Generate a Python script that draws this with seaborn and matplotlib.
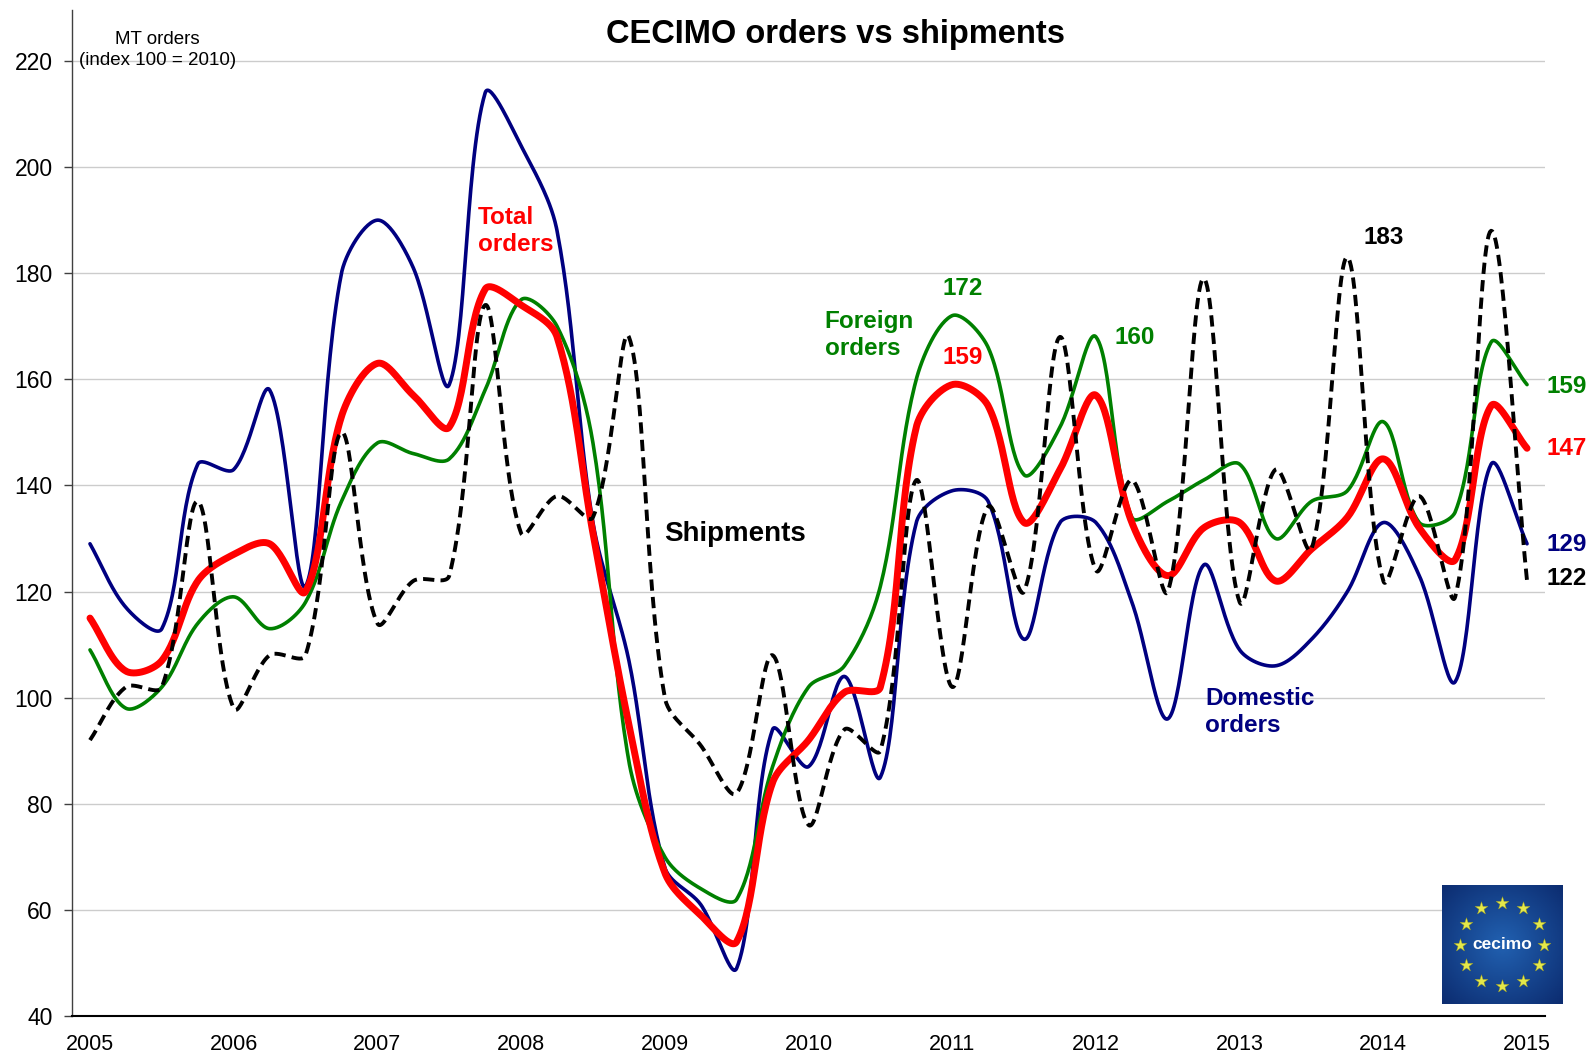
import numpy as np
import pandas as pd
import matplotlib
matplotlib.use("Agg")
import matplotlib.pyplot as plt
import seaborn as sns

# quarterly index values, 2005 Q1 .. 2015 Q1 (index 100 = 2010)
year_labels = [str(y) for y in range(2005, 2016)]
quarters = list(range(41))

domestic = [129, 117, 113, 144, 143, 158, 121, 180, 190, 181,
            159, 214, 204, 188, 133, 107, 68, 61, 49, 94,
            87, 104, 85, 133, 139, 137, 111, 133, 133, 118,
            96, 125, 109, 106, 111, 120, 133, 123, 103, 144, 129]
total = [115, 105, 107, 122, 127, 129, 120, 153, 163, 157,
         151, 177, 174, 168, 131, 95, 67, 59, 54, 84,
         92, 101, 102, 151, 159, 155, 133, 143, 157, 133,
         123, 132, 133, 122, 128, 134, 145, 132, 126, 155, 147]
foreign = [109, 98, 102, 114, 119, 113, 118, 137, 148, 146,
           145, 158, 175, 170, 148, 88, 70, 64, 62, 87,
           102, 106, 121, 160, 172, 166, 142, 151, 168, 134,
           137, 141, 144, 130, 137, 139, 152, 133, 135, 167, 159]
shipments = [92, 102, 102, 137, 98, 108, 108, 150, 114, 122,
             123, 174, 131, 138, 134, 168, 100, 91, 82, 108,
             76, 94, 90, 141, 102, 136, 120, 168, 124, 141,
             120, 179, 118, 143, 128, 183, 122, 138, 119, 188, 122]

PX_X, PX_Y = 35.9, 5.306  # screen pixels per quarter / per index point


def smooth(x, y, n=30):
    # Excel style smoothed line: bezier through the points, handles scaled by chord length
    p = np.column_stack([np.asarray(x, float) * PX_X, np.asarray(y, float) * PX_Y])
    m = len(p)
    d = np.linalg.norm(np.diff(p, axis=0), axis=1)
    out_h = np.zeros_like(p)
    in_h = np.zeros_like(p)
    for i in range(m):
        a = p[i - 1] if i > 0 else p[i]
        b = p[i + 1] if i < m - 1 else p[i]
        tang = b - a
        dl = d[i - 1] if i > 0 else 0.0
        dr = d[i] if i < m - 1 else 0.0
        s = dl + dr
        out_h[i] = tang * (dr / s) / 3
        in_h[i] = tang * (dl / s) / 3
    t = np.linspace(0, 1, n, endpoint=False)[:, None]
    pts = []
    for i in range(m - 1):
        p1, p2 = p[i], p[i + 1]
        c1, c2 = p1 + out_h[i], p2 - in_h[i + 1]
        pts.append((1 - t) ** 3 * p1 + 3 * (1 - t) ** 2 * t * c1 + 3 * (1 - t) * t ** 2 * c2 + t ** 3 * p2)
    pts.append(p[-1:])
    pts = np.vstack(pts)
    return pd.DataFrame({"q": pts[:, 0] / PX_X, "v": pts[:, 1] / PX_Y})


sns.set_theme(style="white")
plt.rcParams["font.family"] = ["Liberation Sans", "DejaVu Sans"]
for k in ["text.color", "axes.labelcolor", "xtick.color", "ytick.color"]:
    plt.rcParams[k] = "black"

fig = plt.figure(figsize=(15.9, 10.57), dpi=100)
ax = fig.add_axes([0.0453, 0.0388, 0.9264, 0.9517])

series = [
    (domestic, "#000080", 2.6, 2),
    (foreign, "#008000", 2.6, 3),
    (total, "#FF0000", 5.0, 4),
    (shipments, "black", 2.8, 5),
]
for vals, col, lw, z in series:
    df = smooth(quarters, vals)
    sns.lineplot(data=df, x="q", y="v", ax=ax, color=col, lw=lw, sort=False,
                 estimator=None, zorder=z)
ax.lines[-1].set_dashes((2.9, 1.6))

ax.set_xlim(-0.5, 40.5)
ax.set_ylim(40, 229.6)
ax.set_yticks(range(40, 221, 20))
ax.set_xticks(range(0, 41, 4))
ax.set_xticklabels(year_labels)
ax.set_xticks(np.arange(-0.5, 41, 1), minor=True)
ax.tick_params(axis="x", which="major", length=0, labelsize=15.5, pad=13)
ax.tick_params(axis="x", which="minor", length=6, width=1, direction="out", color="black")
ax.tick_params(axis="y", length=6, width=1, direction="out", left=True, labelsize=16.5, pad=8, color="#404040")
ax.set_xlabel("")
ax.set_ylabel("")
ax.grid(axis="y", color="#cccccc", lw=1)
ax.set_axisbelow(True)
for s in ["top", "right"]:
    ax.spines[s].set_visible(False)
ax.spines["left"].set_color("#404040")
ax.spines["bottom"].set_color("black")
ax.spines["left"].set_linewidth(1)
ax.spines["bottom"].set_linewidth(1.5)

fig.text(0.5255, 0.967, "CECIMO orders vs shipments", ha="center", va="center",
         fontsize=23.5, fontweight="bold")
fig.text(0.0988, 0.953, "MT orders\n(index 100 = 2010)", ha="center", va="center",
         fontsize=13.5, linespacing=1.3)

# series names
ax.text(10.79, 188.0, "Total\norders", color="#FF0000", fontsize=17.5, fontweight="bold",
        ha="left", va="center", linespacing=1.2)
ax.text(20.45, 168.4, "Foreign\norders", color="#008000", fontsize=17.5, fontweight="bold",
        ha="left", va="center", linespacing=1.2)
ax.text(15.97, 130.8, "Shipments", color="black", fontsize=20, fontweight="bold",
        ha="left", va="center")
ax.text(31.04, 97.3, "Domestic\norders", color="#000080", fontsize=17.5, fontweight="bold",
        ha="left", va="center", linespacing=1.2)

# value callouts
for x, y, s, c in [(24.28, 177.2, "172", "#008000"), (24.28, 164.2, "159", "#FF0000"),
                   (29.07, 167.8, "160", "#008000"), (36.0, 186.8, "183", "black")]:
    ax.text(x, y, s, color=c, fontsize=17.5, fontweight="bold", ha="center", va="center")
for y, s, c in [(158.7, "159", "#008000"), (147.0, "147", "#FF0000"),
                (128.9, "129", "#000080"), (122.4, "122", "black")]:
    ax.text(40.54, y, s, color=c, fontsize=17.5, fontweight="bold", ha="left", va="center")

# CECIMO logo
lax = fig.add_axes([0.907, 0.0501, 0.0755, 0.1126])
gx, gy = np.meshgrid(np.linspace(-1, 1, 60), np.linspace(-1, 1, 60))
grad = np.sqrt(gx ** 2 + gy ** 2)
lax.imshow(grad, cmap=sns.blend_palette(["#2160b0", "#0c2c70"], as_cmap=True),
           extent=(0, 1, 0, 1), aspect="auto")
ang = np.deg2rad(90 - np.arange(12) * 30)
lax.scatter(0.5 + 0.35 * np.cos(ang), 0.5 + 0.35 * np.sin(ang), marker="*", s=95,
            color="#e4e84a", edgecolor="#a0a020", lw=0.3, zorder=3)
lax.text(0.5, 0.5, "cecimo", color="white", fontsize=12.5, fontweight="bold",
         ha="center", va="center", zorder=4)
lax.set_xlim(0, 1)
lax.set_ylim(0, 1)
lax.axis("off")

fig.savefig("out.png", dpi=100)
